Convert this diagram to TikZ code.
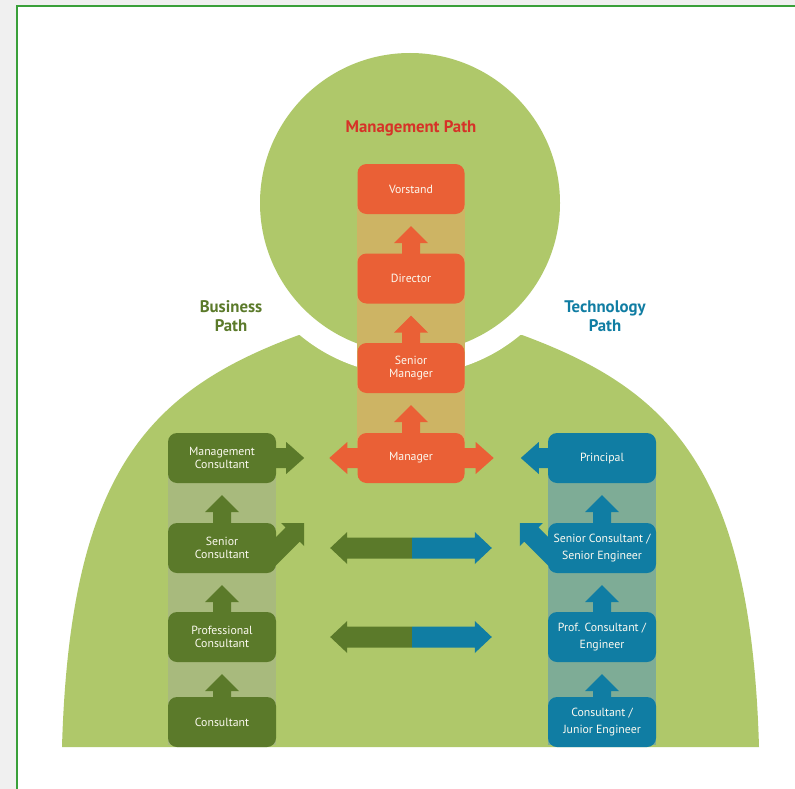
\documentclass[tikz,border=0pt]{standalone}
\usepackage{fontspec}
\setmainfont{PT Sans}
\usetikzlibrary{calc,backgrounds}
\definecolor{bgc}{RGB}{240,240,240}
\definecolor{framec}{RGB}{58,160,58}
\definecolor{leaf}{RGB}{175,200,106}
\definecolor{olive}{RGB}{91,122,42}
\definecolor{bstrip}{RGB}{168,186,125}
\definecolor{orng}{RGB}{234,96,54}
\definecolor{mstrip}{RGB}{205,180,100}
\definecolor{tblue}{RGB}{16,125,163}
\definecolor{tstrip}{RGB}{126,172,150}
\definecolor{mred}{RGB}{214,50,40}
\definecolor{boxtext}{RGB}{252,250,240}
\newcommand\uparr[3]{\fill[#1] ($(#3.south)+(0,12)$) -- ($(#3.south)+(17,29)$) -- ($(#3.south)+(9,29)$) -- ($(#2.north)+(9,2)$) -- ($(#2.north)+(-9,2)$) -- ($(#3.south)+(-9,29)$) -- ($(#3.south)+(-17,29)$) -- cycle;}
\newcommand\rightarr[3]{\fill[#1] ($(#2.east)+(#3,0)$) -- ($(#2.east)+(#3-18,16)$) -- ($(#2.east)+(#3-18,10)$) -- ($(#2.east)+(-3,10)$) -- ($(#2.east)+(-3,-10)$) -- ($(#2.east)+(#3-18,-10)$) -- ($(#2.east)+(#3-18,-16)$) -- cycle;}
\newcommand\leftarr[3]{\fill[#1] ($(#2.west)+(-#3,0)$) -- ($(#2.west)+(18-#3,16)$) -- ($(#2.west)+(18-#3,10)$) -- ($(#2.west)+(3,10)$) -- ($(#2.west)+(3,-10)$) -- ($(#2.west)+(18-#3,-10)$) -- ($(#2.west)+(18-#3,-16)$) -- cycle;}
\newcommand\twotone[2]{%
  \coordinate (mid) at ($(#1.east)!0.5!(#2.west)$);
  \fill[olive] ($(#1.east)+(54,0)$) -- ($(#1.east)+(71,-16)$) -- ($(#1.east)+(71,-10.5)$) -| ($(mid)+(0,10.5)$) -| ($(#1.east)+(71,16)$) -- cycle;
  \fill[tblue] ($(#2.west)+(-56,0)$) -- ($(#2.west)+(-73,-16)$) -- ($(#2.west)+(-73,-10.5)$) -| ($(mid)+(0,10.5)$) -| ($(#2.west)+(-73,16)$) -- cycle;}
\begin{document}
\begin{tikzpicture}[x=1pt,y=-1pt,
  box/.style={rounded corners=9pt, minimum width=108pt, minimum height=50pt, inner sep=0pt, align=center, text=boxtext, font=\fontsize{11.8}{13}\selectfont},
  bbox/.style={box, fill=olive},
  mbox/.style={box, fill=orng, minimum width=107pt, font=\fontsize{11.8}{13.7}\selectfont},
  tbox/.style={box, fill=tblue, font=\fontsize{11.8}{17}\selectfont},
  ttl/.style={font=\bfseries\fontsize{16.8}{19}\selectfont, align=center}]
\useasboundingbox (0,0) rectangle (795,789);
% boxes
\node[bbox] (MC) at (222,458) {Management\\Consultant};
\node[bbox] (SC) at (222,548) {Senior\\Consultant};
\node[bbox] (PC) at (222,637) {Professional\\Consultant};
\node[bbox] (C)  at (222,722) {Consultant};
\node[mbox] (V)  at (411,189) {Vorstand};
\node[mbox] (D)  at (411,278.5) {Director};
\node[mbox] (SM) at (411,368) {Senior\\Manager};
\node[mbox] (M)  at (411,458) {Manager};
\node[tbox] (P)  at (602,458) {Principal};
\node[tbox] (TS) at (602,548) {Senior Consultant /\\Senior Engineer};
\node[tbox] (PE) at (602,637) {Prof. Consultant /\\Engineer};
\node[tbox] (CJ) at (602,722) {Consultant /\\Junior Engineer};
% titles
\node[ttl, text=mred] (mp) at (411,128) {Management Path};
\node[ttl, text=olive] (bp) at (231,316) {Business\\Path};
\node[ttl, text=tblue] (tp) at (605,316) {Technology\\Path};
\begin{scope}[on background layer]
  \fill[bgc] (0,0) rectangle (795,789);
  \draw[fill=white, draw=framec, line width=2pt] (17,6.5) rectangle (810,810);
  \fill[leaf] (62,747) .. controls (70,470) and (150,390) .. (299,335) -- (522,335) .. controls (671,390) and (751,470) .. (759,747) -- cycle;
  \fill[white] (410,203) circle[radius=172pt];
  \fill[leaf] (410,203) circle[radius=150pt];
  \fill[bstrip] (MC.west) rectangle ($(C.south east)+(0,-2)$);
  \fill[mstrip] (V.west) rectangle (M.east);
  \fill[tstrip] (P.west) rectangle ($(CJ.south east)+(0,-2)$);
\end{scope}
% vertical promotion arrows
\uparr{olive}{C}{PC}
\uparr{olive}{PC}{SC}
\uparr{olive}{SC}{MC}
\uparr{orng}{M}{SM}
\uparr{orng}{SM}{D}
\uparr{orng}{D}{V}
\uparr{tblue}{CJ}{PE}
\uparr{tblue}{PE}{TS}
\uparr{tblue}{TS}{P}
% horizontal arrows
\rightarr{olive}{MC}{28}
\leftarr{orng}{M}{28}
\rightarr{orng}{M}{29}
\leftarr{tblue}{P}{27}
% diagonal arrows
\fill[olive] ($(SC.east)+(28,-25)$) -- ($(SC.east)+(28,-2)$) -- ($(SC.east)+(23.6,-6.4)$) -- ($(SC.east)+(-6,23.2)$) -- ($(SC.east)+(-6,-5.2)$) -- ($(SC.east)+(9.4,-20.6)$) -- ($(SC.east)+(5,-25)$) -- cycle;
\fill[tblue] ($(TS.west)+(-28,-25)$) -- ($(TS.west)+(-28,-2)$) -- ($(TS.west)+(-23.6,-6.4)$) -- ($(TS.west)+(6,23.2)$) -- ($(TS.west)+(6,-5.2)$) -- ($(TS.west)+(-9.4,-20.6)$) -- ($(TS.west)+(-5,-25)$) -- cycle;
% two-tone exchange arrows
\twotone{SC}{TS}
\twotone{PC}{PE}
\end{tikzpicture}
\end{document}
